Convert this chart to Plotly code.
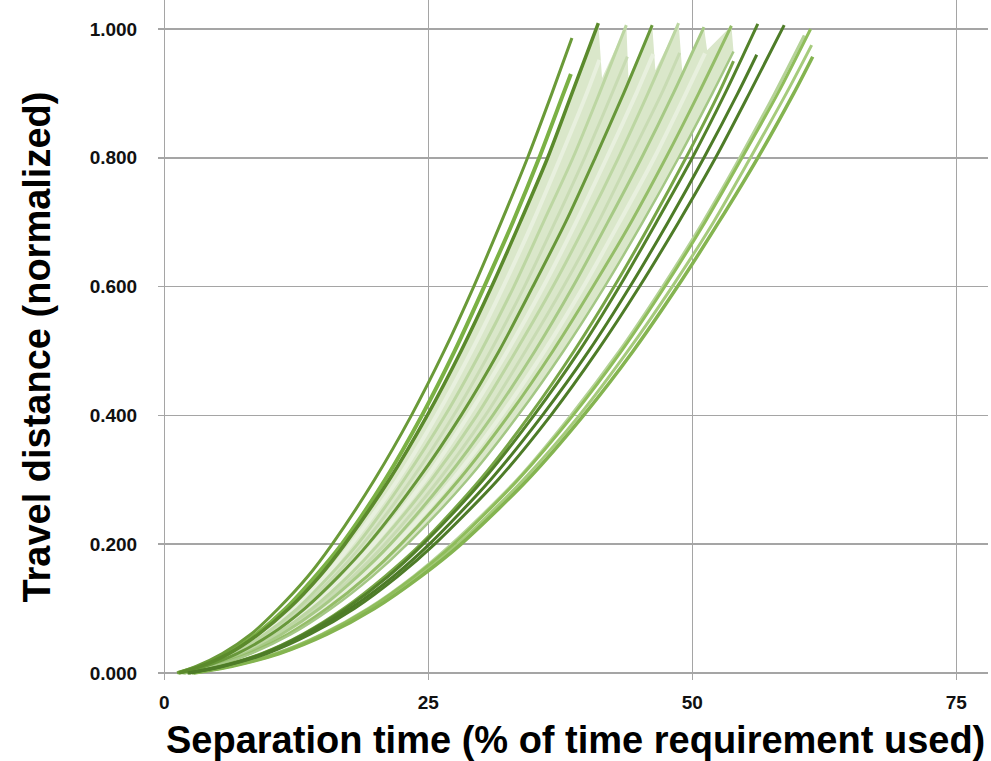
import plotly.graph_objects as go

# ---------------- data ----------------
# x position of each curve at these travel-distance levels; last x is the curve's end point
Y_LEVELS = [0.0, 0.01, 0.03, 0.06, 0.1, 0.15, 0.2, 0.3, 0.4, 0.5, 0.6, 0.7, 0.8, 0.9]

C1_X = [1.2, 3.0, 5.5, 8.2, 10.8, 13.6, 15.9, 19.9, 23.4, 26.5, 29.3, 31.9, 34.4, 36.7, 38.6]
C1_END = 0.986
C2_X = [1.3, 3.3, 6.0, 8.7, 11.5, 14.3, 16.8, 20.9, 24.4, 27.5, 30.3, 33.0, 35.5, 37.8, 38.5]
C2_END = 0.930
P1_X = [1.4, 3.4, 6.1, 8.9, 11.8, 14.7, 17.1, 21.3, 24.9, 28.1, 31.0, 33.7, 36.3, 38.6, 41.1]
P1_END = 1.009
P2_X = [1.5, 3.6, 6.5, 9.5, 12.6, 15.6, 18.3, 22.7, 26.6, 30.0, 33.1, 35.9, 38.7, 41.2, 43.75]
P2_END = 1.006
P3_X = [1.6, 3.8, 6.9, 10.1, 13.3, 16.5, 19.3, 24.0, 28.1, 31.7, 34.9, 38.0, 40.8, 43.5, 46.2]
P3_END = 1.006
P4_X = [1.7, 4.0, 7.3, 10.6, 14.0, 17.4, 20.3, 25.3, 29.6, 33.3, 36.8, 40.0, 43.0, 45.8, 48.7]
P4_END = 1.009
P5_X = [1.8, 4.2, 7.7, 11.1, 14.7, 18.3, 21.4, 26.6, 31.1, 35.1, 38.7, 42.0, 45.2, 48.2, 51.1]
P5_END = 1.003
P6_X = [1.9, 4.4, 8.0, 11.7, 15.4, 19.2, 22.4, 27.9, 32.6, 36.8, 40.6, 44.2, 47.5, 50.6, 53.7]
P6_END = 1.005
FR_X = [1.9, 4.6, 8.2, 12.0, 15.8, 19.7, 23.0, 28.7, 33.5, 37.8, 41.7, 45.3, 48.7, 51.9, 53.9]
FR_END = 0.965
M1_X = [2.2, 5.2, 9.2, 13.1, 17.0, 20.9, 24.3, 29.9, 34.6, 38.8, 42.6, 46.1, 49.4, 52.5, 53.9]
M1_END = 0.950
P7_X = [2.2, 5.3, 9.3, 13.2, 17.2, 21.2, 24.5, 30.2, 35.0, 39.3, 43.1, 46.6, 50.0, 53.1, 56.2]
P7_END = 1.008
D1_X = [2.3, 5.4, 9.5, 13.5, 17.6, 21.7, 25.1, 30.9, 35.8, 40.2, 44.1, 47.7, 51.1, 54.3, 56.1]
D1_END = 0.960
P8_X = [2.4, 5.5, 9.7, 13.8, 18.0, 22.1, 25.6, 31.6, 36.6, 41.0, 45.0, 48.7, 52.2, 55.4, 58.7]
P8_END = 1.006
R0_X = [2.6, 6.1, 10.5, 14.9, 19.3, 23.6, 27.2, 33.4, 38.5, 43.1, 47.2, 51.0, 54.5, 57.8, 60.6]
R0_END = 0.990
R1_X = [2.6, 6.1, 10.6, 15.0, 19.4, 23.7, 27.4, 33.5, 38.7, 43.3, 47.4, 51.2, 54.7, 58.1, 61.2]
R1_END = 1.000
R2_X = [2.7, 6.2, 10.8, 15.2, 19.6, 24.1, 27.8, 34.0, 39.3, 43.9, 48.1, 52.0, 55.5, 58.9, 61.3]
R2_END = 0.975
R3_X = [2.8, 6.3, 10.9, 15.4, 19.9, 24.3, 28.1, 34.4, 39.7, 44.4, 48.6, 52.5, 56.2, 59.6, 61.4]
R3_END = 0.957

# faint curves inside the light band
S1_X = [1.5, 3.5, 6.4, 9.2, 12.2, 15.2, 17.7, 22.1, 25.8, 29.1, 32.1, 34.9, 37.5, 40.0, 41.2]
S1_END = 0.952
S2_X = [1.6, 3.7, 6.7, 9.8, 12.9, 16.1, 18.8, 23.4, 27.4, 30.9, 34.1, 37.0, 39.8, 42.4, 43.85]
S2_END = 0.957
S3_X = [1.7, 3.9, 7.1, 10.3, 13.6, 17.0, 19.8, 24.7, 28.8, 32.5, 35.9, 39.0, 41.9, 44.7, 46.3]
S3_END = 0.961
S4_X = [1.8, 4.1, 7.5, 10.9, 14.3, 17.9, 20.9, 26.0, 30.4, 34.2, 37.8, 41.1, 44.1, 47.1, 48.8]
S4_END = 0.963
S5_X = [1.9, 4.3, 7.9, 11.4, 15.1, 18.8, 21.9, 27.3, 31.9, 36.0, 39.7, 43.1, 46.4, 49.4, 51.2]
S5_END = 0.962

# lower corners of the saw-tooth top edge of the light band
NOTCH_X = [41.45, 43.95, 46.5, 49.05, 51.4]
NOTCH_Y = [0.924, 0.924, 0.936, 0.933, 0.967]

X_TICKS = [0, 25, 50, 75]
Y_TICKS = [0.0, 0.2, 0.4, 0.6, 0.8, 1.0]
Y_TICK_TEXT = ["0.000", "0.200", "0.400", "0.600", "0.800", "1.000"]
X_TITLE = "Separation time (% of time requirement used)"
Y_TITLE = "Travel distance (normalized)"

# ---------------- figure ----------------
def ys(end_y):
    return Y_LEVELS + [end_y]

FONT = "Liberation Sans, Arial, Helvetica, sans-serif"
fig = go.Figure()

# light band (polygon built from the boundary curves and saw-tooth corners)
peaks = [(P2_X, P2_END), (P3_X, P3_END), (P4_X, P4_END), (P5_X, P5_END), (P6_X, P6_END)]
top_x, top_y = [], []
for (nx, ny), (px, pe) in zip(zip(NOTCH_X, NOTCH_Y), peaks):
    top_x += [nx, px[-1]]
    top_y += [ny, pe]
band_x = P1_X + top_x + FR_X[::-1]
band_y = ys(P1_END) + top_y + ys(FR_END)[::-1]
fig.add_trace(go.Scatter(x=band_x, y=band_y, mode="lines", fill="toself",
                         fillcolor="#dae7ca", line=dict(width=0, color="#dae7ca"),
                         hoverinfo="skip", showlegend=False))

curves = [
    # faint streaks
    (S1_X, S1_END, "#e8f0de", 4),
    (S2_X, S2_END, "#c8dbb3", 3),
    (S3_X, S3_END, "#e8f0de", 4),
    (S4_X, S4_END, "#c8dbb3", 3),
    (S5_X, S5_END, "#e8f0de", 4),
    # light lines
    (P2_X, P2_END, "#bcd6a2", 3),
    (P4_X, P4_END, "#bcd6a2", 3),
    (P5_X, P5_END, "#a6c985", 3),
    (P6_X, P6_END, "#94bd68", 3),
    (FR_X, FR_END, "#a4c785", 2.5),
    (R0_X, R0_END, "#b5d398", 3),
    (R2_X, R2_END, "#a6cb7c", 3),
    (R1_X, R1_END, "#8fbd5b", 3),
    (R3_X, R3_END, "#84b450", 3.5),
    # medium / dark lines
    (M1_X, M1_END, "#78a648", 3),
    (C2_X, C2_END, "#7bb145", 4),
    (C1_X, C1_END, "#6a9a38", 3),
    (P3_X, P3_END, "#68983a", 3),
    (P1_X, P1_END, "#5b8a2c", 3.5),
    (P7_X, P7_END, "#53822a", 3),
    (D1_X, D1_END, "#4d7b27", 3),
    (P8_X, P8_END, "#4e7c28", 3),
]
for xs, ye, col, w in curves:
    fig.add_trace(go.Scatter(x=xs, y=ys(ye), mode="lines",
                             line=dict(color=col, width=w, shape="spline", smoothing=0.8),
                             hoverinfo="skip", showlegend=False))

axis_common = dict(showgrid=True, gridcolor="#a5a5a5", gridwidth=1.5, zeroline=False,
                   showline=False, ticks="outside", tickcolor="rgba(0,0,0,0)",
                   tickfont=dict(family=FONT, size=19, color="#111111", weight="bold"))
fig.update_xaxes(range=[-0.6, 78.0], tickvals=X_TICKS, ticklen=5, **axis_common)
fig.update_yaxes(range=[-0.011, 1.045], tickvals=Y_TICKS, ticktext=Y_TICK_TEXT,
                 ticklen=16, **axis_common)

fig.add_annotation(text=X_TITLE, xref="paper", yref="paper", x=0.5036, y=-0.088,
                   xanchor="center", yanchor="middle", showarrow=False,
                   font=dict(family=FONT, size=38, color="#000000", weight="bold"))
fig.add_annotation(text=Y_TITLE, xref="paper", yref="paper", x=-0.146, y=0.49,
                   xanchor="center", yanchor="middle", textangle=-90, showarrow=False,
                   font=dict(family=FONT, size=38, color="#000000", weight="bold"))

fig.update_layout(width=991, height=761, margin=dict(l=158, r=3, t=0, b=81),
                  plot_bgcolor="white", paper_bgcolor="white", hovermode=False)

fig.write_html("out.html", config={"displayModeBar": False, "staticPlot": True},
               post_script="document.body.style.margin='0px';document.body.style.overflow='hidden';")
